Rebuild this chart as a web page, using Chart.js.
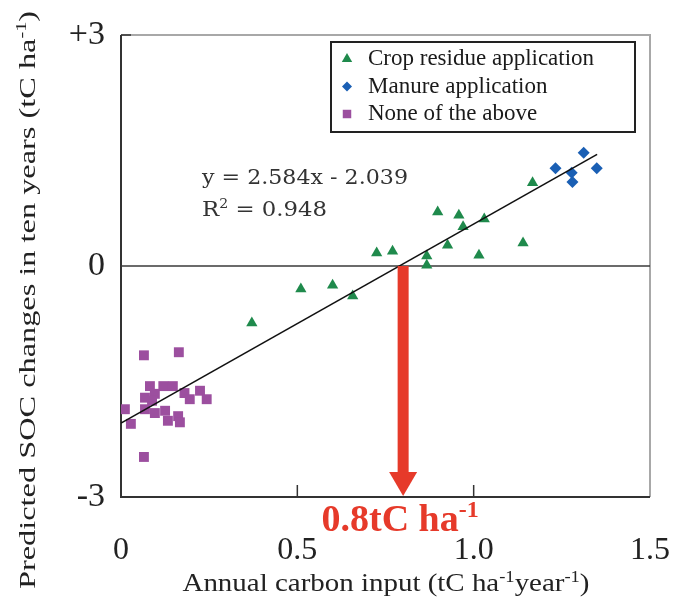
<!DOCTYPE html>
<html>
<head>
<meta charset="utf-8">
<script src="https://cdn.jsdelivr.net/npm/chart.js@4"></script>
<style>
  html, body { margin: 0; padding: 0; background: #fff; }
  #wrap { width: 673px; height: 599px; }
</style>
</head>
<body>
<div id="wrap"><canvas id="socChart" width="673" height="599"></canvas></div>
<script>
// values
const cropX = [0.725, 0.77, 0.51, 0.60, 0.657, 0.371, 0.898, 0.958, 0.97, 1.03, 0.926, 1.015, 1.14, 1.167, 0.867, 0.867];
const cropY = [0.17, 0.19, -0.30, -0.25, -0.39, -0.74, 0.70, 0.66, 0.51, 0.61, 0.27, 0.14, 0.30, 1.08, 0.13, 0.01];

const manureX = [1.232, 1.312, 1.349, 1.278, 1.28];
const manureY = [1.27, 1.47, 1.27, 1.21, 1.09];

const noneX = [0.065, 0.164, 0.011, 0.028, 0.065, 0.082, 0.12, 0.147, 0.068, 0.096, 0.18, 0.224, 0.243, 0.195, 0.068, 0.096, 0.125, 0.133, 0.162, 0.167, 0.088];
const noneY = [-1.16, -1.12, -1.86, -2.05, -2.48, -1.56, -1.56, -1.56, -1.71, -1.66, -1.65, -1.62, -1.73, -1.73, -1.86, -1.91, -1.88, -2.01, -1.95, -2.03, -1.75];

// regression line ends (y = 2.584x - 2.039)
const trendX = [0, 1.35];
const trendY = [-2.04, 1.45];

const xTickVals = [0, 0.5, 1.0, 1.5];
const xTickLabels = ['0', '0.5', '1.0', '1.5'];
const yTickVals = [-3, 0, 3];
const yTickLabels = ['-3', '0', '+3'];

const arrowX = 0.8;   // threshold carbon input

const seriesNames = ['Crop residue application', 'Manure application', 'None of the above'];
const seriesColors = ['#1f8a4c', '#1a5fb4', '#9c4f9f'];

function pts(xs, ys) {
  return xs.map(function(x, i){ return { x: x, y: ys[i] }; });
}

const SERIF = '"Liberation Serif", "Times New Roman", serif';

// draws text that can contain superscript pieces
function drawRich(ctx, parts, x, y, size, opts) {
  opts = opts || {};
  const weight = opts.weight || 'normal';
  const family = opts.family || SERIF;
  const supSize = Math.round(size * 0.62);
  let w = 0;
  parts.forEach(function(p){
    ctx.font = weight + ' ' + (p.sup ? supSize : size) + 'px ' + family;
    w += ctx.measureText(p.t).width;
  });
  let sx = 1;
  if (opts.fit) sx = opts.fit / w;
  ctx.save();
  ctx.translate(x, y);
  if (opts.rotate) ctx.rotate(opts.rotate);
  ctx.scale(sx, 1);
  let cx = opts.align === 'center' ? -w / 2 : 0;
  ctx.fillStyle = opts.color || '#222';
  ctx.textBaseline = 'alphabetic';
  ctx.textAlign = 'left';
  parts.forEach(function(p){
    ctx.font = weight + ' ' + (p.sup ? supSize : size) + 'px ' + family;
    ctx.fillText(p.t, cx, p.sup ? -size * 0.38 : 0);
    cx += ctx.measureText(p.t).width;
  });
  ctx.restore();
}

const decorPlugin = {
  id: 'decor',
  beforeDatasetsDraw: function(chart) {
    const ctx = chart.ctx;
    const a = chart.chartArea;
    const xs = chart.scales.x, ys = chart.scales.y;
    ctx.save();
    // light top/right frame
    ctx.strokeStyle = '#a8a8a8';
    ctx.lineWidth = 2;
    ctx.beginPath();
    ctx.moveTo(a.left, a.top); ctx.lineTo(a.right, a.top); ctx.lineTo(a.right, a.bottom);
    ctx.stroke();
    // dark left/bottom axes
    ctx.strokeStyle = '#333';
    ctx.beginPath();
    ctx.moveTo(a.left, a.top); ctx.lineTo(a.left, a.bottom); ctx.lineTo(a.right, a.bottom);
    ctx.stroke();
    // zero line
    const y0 = ys.getPixelForValue(0);
    ctx.strokeStyle = '#3a3a3a';
    ctx.lineWidth = 1.5;
    ctx.beginPath();
    ctx.moveTo(a.left, y0); ctx.lineTo(a.right, y0);
    ctx.stroke();
    // inner tick marks
    ctx.lineWidth = 1.5;
    ctx.strokeStyle = '#333';
    [0.5, 1.0].forEach(function(v){
      const px = xs.getPixelForValue(v);
      ctx.beginPath(); ctx.moveTo(px, a.bottom); ctx.lineTo(px, a.bottom - 12); ctx.stroke();
    });
    ctx.beginPath(); ctx.moveTo(a.left, a.top); ctx.lineTo(a.left + 10, a.top); ctx.stroke();
    ctx.restore();
  },
  afterDatasetsDraw: function(chart) {
    const ctx = chart.ctx;
    const xs = chart.scales.x, ys = chart.scales.y;

    // red arrow down to the x axis
    const ax = xs.getPixelForValue(arrowX);
    const yTop = ys.getPixelForValue(0);
    const yBot = ys.getPixelForValue(-3) - 1;
    ctx.save();
    ctx.fillStyle = '#e63a2a';
    ctx.fillRect(ax - 5.5, yTop, 11, (yBot - 24) - yTop + 1);
    ctx.beginPath();
    ctx.moveTo(ax - 14, yBot - 24);
    ctx.lineTo(ax + 14, yBot - 24);
    ctx.lineTo(ax, yBot);
    ctx.closePath();
    ctx.fill();
    ctx.restore();

    drawRich(ctx, [{t: '0.8tC ha'}, {t: '-1', sup: true}], ax - 3, 531, 38,
      { weight: 'bold', color: '#e63a2a', align: 'center' });

    // regression text
    const EQF = '"DejaVu Serif", serif';
    drawRich(ctx, [{t: 'y = 2.584x - 2.039'}], 202, 184, 21, { family: EQF, color: '#333', fit: 206 });
    drawRich(ctx, [{t: 'R'}, {t: '2', sup: true}, {t: ' = 0.948'}], 202, 216, 21, { family: EQF, color: '#333', fit: 125 });

    // legend box
    ctx.save();
    ctx.fillStyle = '#fff';
    ctx.fillRect(331, 42, 304, 90);
    ctx.strokeStyle = '#222';
    ctx.lineWidth = 2;
    ctx.strokeRect(331, 42, 304, 90);
    const styles = ['triangle', 'rectRot', 'rect'];
    const rads = [6, 5, 6];
    chart.data.datasets.slice(0, 3).forEach(function(ds, i){
      const cy = 59 + i * 27.5;
      ctx.fillStyle = ds.backgroundColor;
      ctx.strokeStyle = ds.backgroundColor;
      Chart.helpers.drawPoint(ctx, { pointStyle: styles[i], radius: rads[i], borderWidth: 0 }, 347, cy);
      ctx.fillStyle = '#1a1a1a';
      ctx.font = '23px ' + SERIF;
      ctx.textBaseline = 'middle';
      ctx.fillText(ds.label, 368, cy);
    });
    ctx.restore();
  },
  afterDraw: function(chart) {
    const ctx = chart.ctx;
    drawRich(ctx, [{t: 'Annual carbon input (tC ha'}, {t: '-1', sup: true}, {t: 'year'}, {t: '-1', sup: true}, {t: ')'}],
      386, 591, 25, { align: 'center', color: '#222', fit: 407 });
    drawRich(ctx, [{t: 'Predicted SOC changes in ten years (tC ha'}, {t: '-1', sup: true}, {t: ')'}],
      35, 300, 24, { align: 'center', color: '#222', rotate: -Math.PI / 2, fit: 578 });
  }
};

const cfg = {
  type: 'scatter',
  data: {
    datasets: [
      { label: seriesNames[0], data: pts(cropX, cropY), pointStyle: 'triangle', pointRadius: 6.5,
        backgroundColor: seriesColors[0], borderColor: seriesColors[0], borderWidth: 0 },
      { label: seriesNames[1], data: pts(manureX, manureY), pointStyle: 'rectRot', pointRadius: 6,
        backgroundColor: seriesColors[1], borderColor: seriesColors[1], borderWidth: 0 },
      { label: seriesNames[2], data: pts(noneX, noneY), pointStyle: 'rect', pointRadius: 7,
        backgroundColor: seriesColors[2], borderColor: seriesColors[2], borderWidth: 0 },
      { label: 'trend', data: pts(trendX, trendY), showLine: true, pointRadius: 0,
        borderColor: '#111', borderWidth: 1.6, fill: false, order: -1 }
    ]
  },
  options: {
    responsive: false,
    animation: false,
    layout: { padding: { left: 0, right: 23, top: 35, bottom: 0 } },
    plugins: { legend: { display: false }, tooltip: { enabled: false } },
    scales: {
      x: {
        type: 'linear', min: 0, max: 1.5,
        afterBuildTicks: function(s){ s.ticks = xTickVals.map(function(v){ return { value: v }; }); },
        afterFit: function(s){ s.height = 102; s.paddingLeft = 0; s.paddingRight = 0; },
        grid: { display: false, drawTicks: false },
        border: { display: false },
        ticks: {
          padding: 34, maxRotation: 0, color: '#222',
          font: { family: SERIF, size: 32 },
          callback: function(v){ return xTickLabels[xTickVals.indexOf(v)]; }
        }
      },
      y: {
        type: 'linear', min: -3, max: 3,
        afterBuildTicks: function(s){ s.ticks = yTickVals.map(function(v){ return { value: v }; }); },
        afterFit: function(s){ s.width = 121; s.paddingTop = 0; s.paddingBottom = 0; },
        grid: { display: false, drawTicks: false },
        border: { display: false },
        ticks: {
          padding: 16, color: '#222',
          font: { family: SERIF, size: 34 },
          callback: function(v){ return yTickLabels[yTickVals.indexOf(v)]; }
        }
      }
    }
  },
  plugins: [decorPlugin]
};

new Chart(document.getElementById('socChart'), cfg);
</script>
</body>
</html>
